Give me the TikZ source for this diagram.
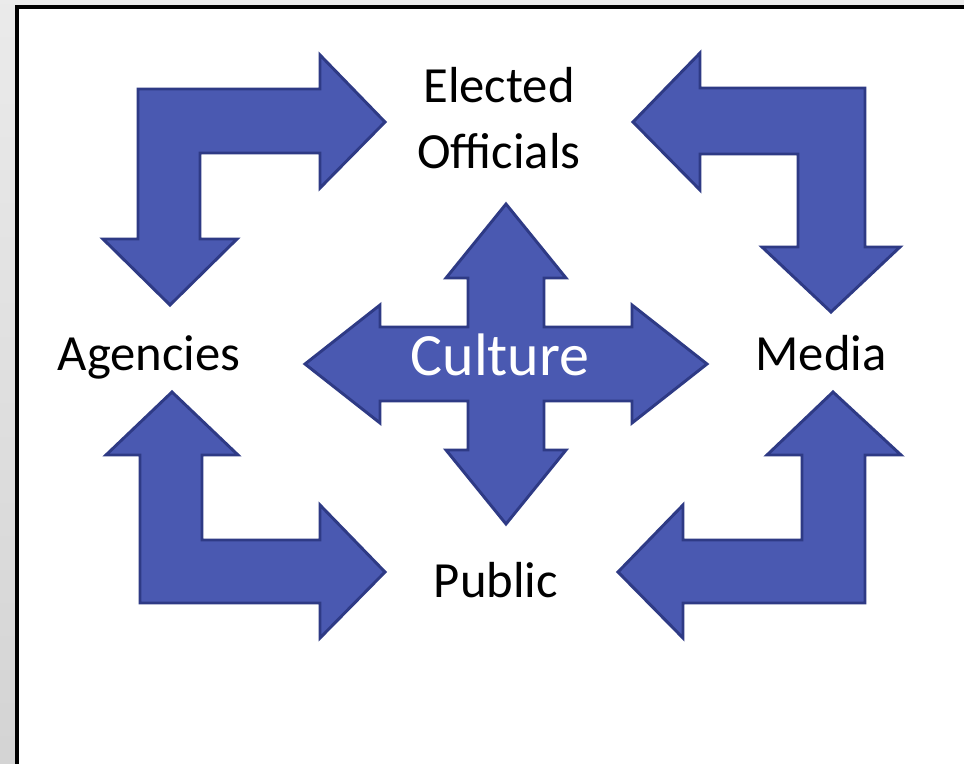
\documentclass[tikz,border=0pt]{standalone}
\usepackage{fontspec}
\setmainfont{Carlito}
\usepackage{xcolor}
\usepackage{tikz}
\usetikzlibrary{calc}

\definecolor{arrfill}{HTML}{4A59B1}
\definecolor{arredge}{HTML}{2E3A85}

\begin{document}
\begin{tikzpicture}[
    x=0.75pt, y=-0.75pt,
    blk/.style={fill=arrfill, draw=arredge, line width=2.2pt, line join=miter},
    lbl/.style={font=\fontsize{38}{49}\selectfont, text=black, inner sep=0pt, align=center},
    clbl/.style={font=\fontsize{45}{54}\selectfont, text=white, inner sep=0pt},
]
    \useasboundingbox (0,0) rectangle (964,764);

    % ---------- fondo y marco ----------
    \shade[top color=black!8, bottom color=black!17] (0,0) rectangle (964,764);
    \fill[white] (15,5) rectangle (964,764);
    \draw[line width=3pt] (17,764) -- (17,7) -- (964,7);

    % ---------- textos ----------
    \node[lbl, anchor=base] (off) at (499,168) {Elected\\Officials};
    \node[lbl, anchor=base] (agy) at (149,370) {Agencies};
    \node[lbl, anchor=base] (med) at (821,370) {Media};
    \node[lbl, anchor=base] (pub) at (496,597) {Public};

    % ---------- flechas en esquina ----------
    % arriba izq: Agencies <-> Elected Officials
    \draw[blk] (170,305) -- (237,239) -- (200,239) -- (200,153) -- (320,153)
        -- (320,188) -- (385,122) -- (320,55) -- (320,89) -- (138,89)
        -- (138,239) -- (103,239) -- cycle;
    % arriba der: Elected Officials <-> Media
    \draw[blk] (633,122) -- (700,53) -- (700,88) -- (865,88) -- (865,247)
        -- (900,247) -- (831,312) -- (762,247) -- (798,247) -- (798,154)
        -- (700,154) -- (700,190) -- cycle;
    % abajo izq: Agencies <-> Public
    \draw[blk] (172,392) -- (238,455) -- (202,455) -- (202,540) -- (320,540)
        -- (320,505) -- (385,572) -- (320,638) -- (320,603) -- (140,603)
        -- (140,455) -- (106,455) -- cycle;
    % abajo der: Media <-> Public
    \draw[blk] (833,392) -- (901,455) -- (865,455) -- (865,603) -- (683,603)
        -- (683,638) -- (618,572) -- (683,505) -- (683,540) -- (802,540)
        -- (802,455) -- (767,455) -- cycle;

    % ---------- cruz central ----------
    \begin{scope}[shift={(506,364)}]
        \draw[blk] (0,-160) -- (60,-86) -- (38,-86) -- (38,-37) -- (126,-37)
            -- (126,-59) -- (201,0) -- (126,59) -- (126,37) -- (38,37)
            -- (38,86) -- (60,86) -- (0,160) -- (-60,86) -- (-38,86)
            -- (-38,37) -- (-126,37) -- (-126,59) -- (-201,0) -- (-126,-59)
            -- (-126,-37) -- (-38,-37) -- (-38,-86) -- (-60,-86) -- cycle;
    \end{scope}
    \node[clbl, anchor=base] (cul) at (500,375) {Culture};
\end{tikzpicture}
\end{document}
